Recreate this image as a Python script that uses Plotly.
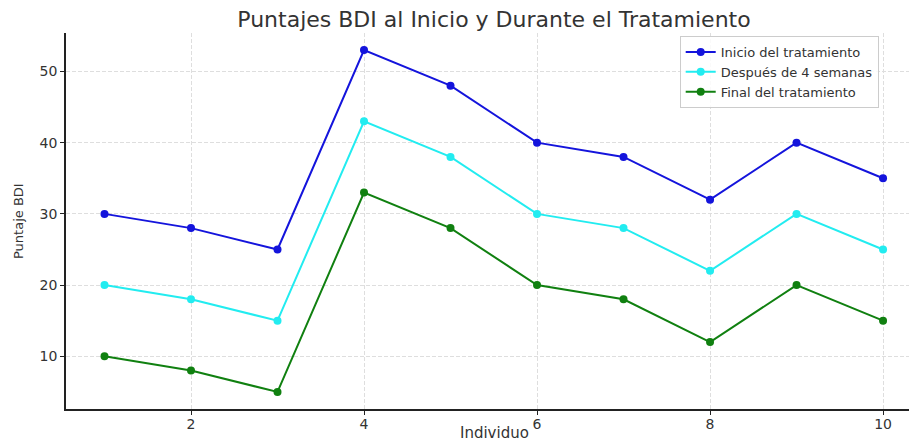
import plotly.graph_objects as go

# BDI scores per individual at three points of the treatment
individuos = [1, 2, 3, 4, 5, 6, 7, 8, 9, 10]
inicio = [30, 28, 25, 53, 48, 40, 38, 32, 40, 35]
cuatro_semanas = [20, 18, 15, 43, 38, 30, 28, 22, 30, 25]
final = [10, 8, 5, 33, 28, 20, 18, 12, 20, 15]

series = [
    ("Inicio del tratamiento", inicio, "#1414dc"),
    ("Después de 4 semanas", cuatro_semanas, "#22ecf0"),
    ("Final del tratamiento", final, "#108010"),
]

FONT = "DejaVu Sans"
TEXT = "#333333"

fig = go.Figure()
for name, values, color in series:
    fig.add_trace(go.Scatter(
        x=individuos, y=values, name=name, mode="lines+markers",
        line=dict(color=color, width=2),
        marker=dict(color=color, size=8),
    ))

axis_common = dict(
    showline=True, linecolor="#222222", linewidth=1.5,
    ticks="outside", ticklen=4, tickcolor="#222222", tickwidth=1,
    showgrid=True, gridcolor="#dedede", griddash="4px,2px", gridwidth=1,
    zeroline=False, tickfont=dict(family=FONT, size=14, color=TEXT),
)

fig.update_layout(
    width=909, height=443,
    margin=dict(l=66, r=0, t=33, b=34),
    plot_bgcolor="white", paper_bgcolor="white",
    title=dict(
        text="Puntajes BDI al Inicio y Durante el Tratamiento",
        x=494 / 909, xref="container", xanchor="center",
        y=1 - 19 / 443, yref="container", yanchor="middle",
        font=dict(family=FONT, size=22, color=TEXT),
    ),
    xaxis=dict(range=[0.555, 10.3], tickvals=[2, 4, 6, 8, 10],
               ticklabelstandoff=-3, **axis_common),
    yaxis=dict(range=[2.6, 55.4], tickvals=[10, 20, 30, 40, 50],
               **axis_common),
    legend=dict(
        x=0.728, y=0.992, xanchor="left", yanchor="top",
        bgcolor="rgba(255,255,255,0.85)", bordercolor="#cccccc", borderwidth=1,
        font=dict(family=FONT, size=13, color=TEXT),
        tracegroupgap=0, itemwidth=30,
    ),
    showlegend=True,
)

fig.add_annotation(
    text="Individuo", xref="paper", yref="paper",
    x=(494 - 66) / 843, y=(409 - 433) / 376,
    xanchor="center", yanchor="middle", showarrow=False,
    font=dict(family=FONT, size=15, color=TEXT),
)
fig.add_annotation(
    text="Puntaje BDI", xref="paper", yref="paper",
    x=(18 - 66) / 843, y=0.5, textangle=-90,
    xanchor="center", yanchor="middle", showarrow=False,
    font=dict(family=FONT, size=13, color=TEXT),
)

fig.write_html("out.html")
